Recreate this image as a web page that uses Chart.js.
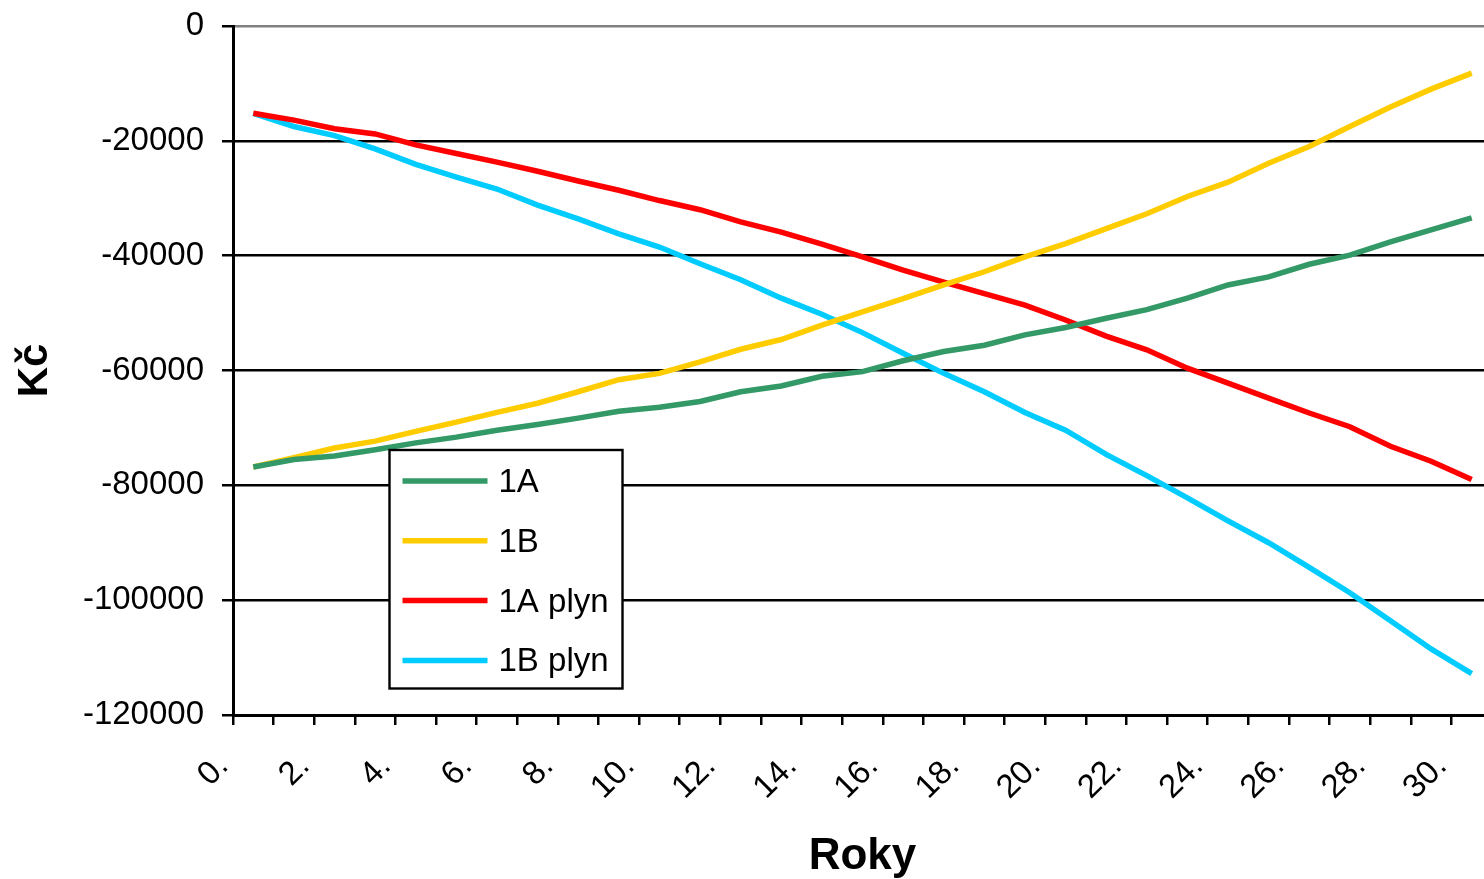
<!DOCTYPE html>
<html>
<head>
<meta charset="utf-8">
<title>Kč – Roky</title>
<script src="https://cdn.jsdelivr.net/npm/chart.js@4/dist/chart.umd.min.js"></script>
<style>
  html, body { margin: 0; padding: 0; background: #fff; overflow: hidden; }
  #wrap { position: relative; width: 1502px; height: 879px; }
</style>
</head>
<body>
<div id="wrap"><canvas id="chart" width="1502" height="879"></canvas></div>
<script>
// Categories: years 0. – 30.
const years = Array.from({length: 31}, (_, i) => i + '.');

// Cumulative cost per variant (Kč)
const serie1A = [-76800, -75500, -74900, -73800, -72600, -71600, -70400, -69400, -68300, -67100,
                 -66400, -65400, -63700, -62700, -61000, -60200, -58300, -56700, -55600, -53800,
                 -52500, -50900, -49400, -47400, -45100, -43700, -41500, -39900, -37600, -35500, -33400];
const serie1B = [-76800, -75200, -73500, -72300, -70600, -69000, -67300, -65700, -63700, -61600,
                 -60500, -58500, -56300, -54600, -52100, -49800, -47500, -45100, -42800, -40200,
                 -37900, -35300, -32700, -29700, -27200, -23900, -21000, -17500, -14100, -11000, -8200];
const serie1Aplyn = [-15200, -16400, -17900, -18800, -20700, -22200, -23700, -25300, -27000, -28600,
                     -30400, -32000, -34100, -35900, -38000, -40200, -42500, -44600, -46600, -48600,
                     -51200, -54000, -56400, -59600, -62200, -64800, -67400, -69800, -73200, -75800, -79000];
const serie1Bplyn = [-15200, -17500, -19100, -21400, -24100, -26300, -28400, -31200, -33600, -36200,
                     -38500, -41400, -44200, -47400, -50200, -53400, -57000, -60500, -63700, -67300,
                     -70400, -74600, -78300, -82200, -86200, -90000, -94300, -98700, -103600, -108500, -112800];

const seriesNames = ['1A', '1B', '1A plyn', '1B plyn'];
const seriesColors = ['#339966', '#FFCC00', '#FF0000', '#00CCFF'];

const yMin = -120000, yMax = 0, yStep = 20000;

const FONT = "'Liberation Sans', Arial, sans-serif";

// Boxed legend drawn inside the plot area
const boxedLegend = {
  id: 'boxedLegend',
  afterDraw(chart) {
    const {ctx, chartArea} = chart;
    const x = chartArea.left + 156.5, y = chartArea.top + 424;
    const w = 233, h = 238.5;
    ctx.save();
    ctx.fillStyle = '#fff';
    ctx.fillRect(x, y, w, h);
    ctx.lineWidth = 2.4;
    ctx.strokeStyle = '#000';
    ctx.strokeRect(x, y, w, h);
    ctx.font = '33px ' + FONT;
    ctx.textBaseline = 'middle';
    ctx.textAlign = 'left';
    chart.data.datasets.forEach((ds, i) => {
      const ry = y + 31 + i * 59.8;
      ctx.strokeStyle = ds.borderColor;
      ctx.lineWidth = 5.5;
      ctx.beginPath();
      ctx.moveTo(x + 13, ry);
      ctx.lineTo(x + 98, ry);
      ctx.stroke();
      ctx.fillStyle = '#000';
      ctx.fillText(ds.label, x + 109, ry + 2);
    });
    ctx.restore();
  }
};

const seriesData = [serie1A, serie1B, serie1Aplyn, serie1Bplyn];

new Chart(document.getElementById('chart'), {
  type: 'line',
  data: {
    labels: years,
    datasets: seriesData.map((d, i) => ({
      label: seriesNames[i],
      data: d,
      borderColor: seriesColors[i],
      backgroundColor: seriesColors[i],
      borderWidth: 5.5,
      pointRadius: 0,
      tension: 0,
      fill: false
    }))
  },
  options: {
    responsive: false,
    animation: false,
    layout: { padding: { top: 26, right: 10, bottom: 0, left: 0 } },
    plugins: {
      legend: { display: false },
      tooltip: { enabled: false }
    },
    scales: {
      x: {
        type: 'category',
        offset: true,
        grid: {
          offset: true,
          drawOnChartArea: false,
          drawTicks: true,
          tickLength: 10,
          color: '#000',
          lineWidth: 2.5
        },
        border: { display: true, color: '#000', width: 3 },
        ticks: {
          autoSkip: false,
          minRotation: 45,
          maxRotation: 45,
          labelOffset: -30,
          padding: 22,
          color: '#000',
          font: { family: FONT, size: 33 },
          callback: (v, i) => (i % 2 === 0 ? years[i] : '')
        },
        title: {
          display: true,
          text: 'Roky',
          color: '#000',
          font: { family: FONT, size: 44, weight: 'bold', lineHeight: 1 },
          padding: { top: 0, bottom: 0 }
        },
        afterFit: s => {
          s.height = 164;
          s.paddingLeft = 0;
          s.paddingRight = 0;
        }
      },
      y: {
        min: yMin,
        max: yMax,
        grid: {
          color: c => (c.tick && c.tick.value === 0 ? '#808080' : '#000'),
          tickColor: '#000',
          lineWidth: 2.5,
          tickLength: 11
        },
        border: { display: true, color: '#000', width: 3 },
        ticks: {
          stepSize: yStep,
          padding: 18,
          color: '#000',
          font: { family: FONT, size: 33 },
          callback: v => String(v)
        },
        title: {
          display: true,
          text: 'Kč',
          color: '#000',
          font: { family: FONT, size: 42, weight: 'bold', lineHeight: 1 },
          padding: { top: 14, bottom: 0 }
        },
        afterFit: s => {
          s.width = 233;
          s.paddingTop = 0;
          s.paddingBottom = 0;
        }
      }
    }
  },
  plugins: [boxedLegend]
});
</script>
</body>
</html>
